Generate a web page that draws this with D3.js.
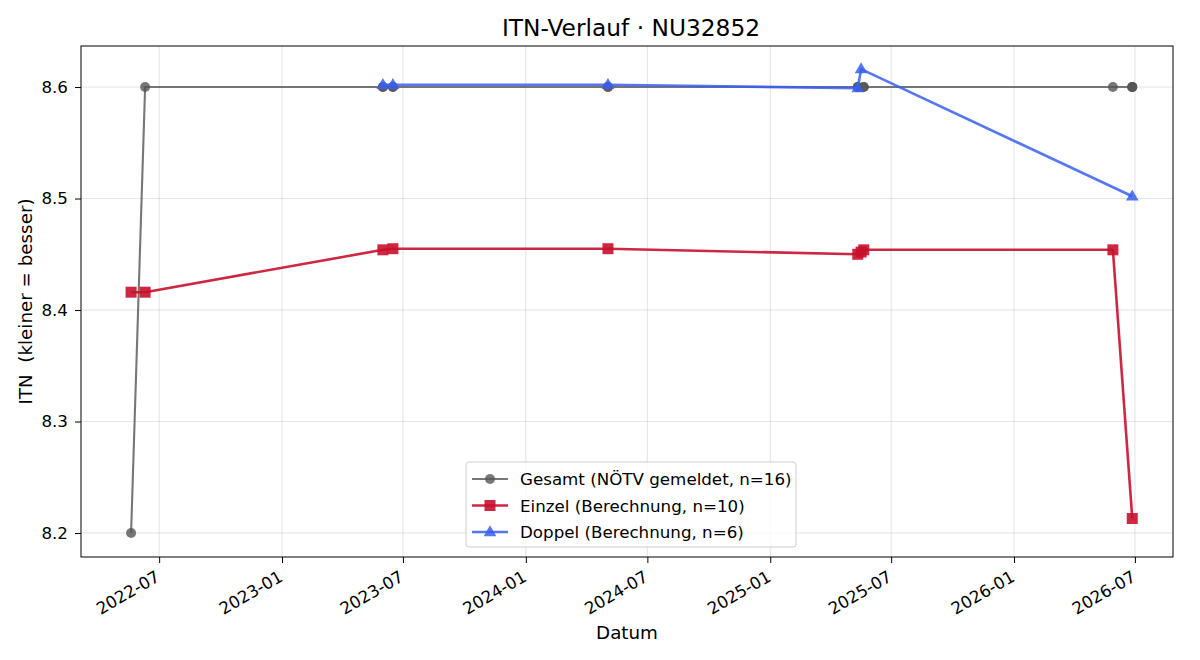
<!DOCTYPE html>
<html>
<head>
<meta charset="utf-8">
<script src="https://cdn.jsdelivr.net/npm/d3@7"></script>
<style>
  body { margin: 0; background: #fff; }
  svg { font-family: "DejaVu Sans", sans-serif; }
</style>
</head>
<body>
<div class="chart"></div>
<script>
// data
const gesamtDates = ["2022-05-20","2022-06-10","2023-06-01","2023-06-01","2023-06-16","2023-06-16",
    "2024-05-03","2024-05-03","2025-05-12","2025-05-12","2025-05-21","2025-05-21",
    "2026-05-29","2026-06-27","2026-06-27","2026-06-27"];
const gesamtValues = [8.2, 8.6, 8.6, 8.6, 8.6, 8.6, 8.6, 8.6, 8.6, 8.6, 8.6, 8.6, 8.6, 8.6, 8.6, 8.6];

const einzelDates = ["2022-05-20","2022-06-10","2023-06-01","2023-06-16","2024-05-03",
    "2025-05-12","2025-05-17","2025-05-21","2026-05-29","2026-06-27"];
const einzelValues = [8.416, 8.416, 8.454, 8.455, 8.455, 8.450, 8.452, 8.454, 8.454, 8.213];

const doppelDates = ["2023-06-01","2023-06-16","2024-05-03","2025-05-12","2025-05-17","2026-06-27"];
const doppelValues = [8.602, 8.602, 8.602, 8.599, 8.616, 8.502];

const yTicks = [8.2, 8.3, 8.4, 8.5, 8.6];
const xTicks = ["2022-07-01","2023-01-01","2023-07-01","2024-01-01","2024-07-01",
    "2025-01-01","2025-07-01","2026-01-01","2026-07-01"];

const seriesList = [
    { name: "Gesamt (NÖTV gemeldet, n=16)", dates: gesamtDates, values: gesamtValues,
      color: "#555555", opacity: 0.8, width: 2.1, marker: "circle" },
    { name: "Einzel (Berechnung, n=10)", dates: einzelDates, values: einzelValues,
      color: "#c8102e", opacity: 0.9, width: 2.6, marker: "square" },
    { name: "Doppel (Berechnung, n=6)", dates: doppelDates, values: doppelValues,
      color: "#3a5ff0", opacity: 0.85, width: 2.6, marker: "triangle" }
];

const width = 1200;
const height = 660;
const plotLeft = 81, plotRight = 1173, plotTop = 46, plotBottom = 557;
const parse = d3.timeParse("%Y-%m-%d");

const svg = d3.select('.chart')
    .append('svg')
    .attr('width', width)
    .attr('height', height);

const x = d3.scaleTime()
    .domain([parse("2022-03-06"), parse("2026-08-27")])
    .range([plotLeft, plotRight]);
const y = d3.scaleLinear()
    .domain([8.1785, 8.6368])
    .range([plotBottom, plotTop]);

// grid
svg.append("g").selectAll("line")
    .data(xTicks)
    .enter()
    .append("line")
    .attr("x1", d => x(parse(d))).attr("x2", d => x(parse(d)))
    .attr("y1", plotTop).attr("y2", plotBottom)
    .attr("stroke", "#b0b0b0").attr("stroke-opacity", 0.35).attr("stroke-width", 1);
svg.append("g").selectAll("line")
    .data(yTicks)
    .enter()
    .append("line")
    .attr("x1", plotLeft).attr("x2", plotRight)
    .attr("y1", d => y(d)).attr("y2", d => y(d))
    .attr("stroke", "#b0b0b0").attr("stroke-opacity", 0.35).attr("stroke-width", 1);

// axes
const xAxis = svg.append("g")
    .attr("transform", "translate(0," + plotBottom + ")")
    .call(d3.axisBottom(x).tickValues(xTicks.map(parse)).tickFormat(d3.timeFormat("%Y-%m")).tickSizeOuter(0).tickSize(6));
xAxis.select(".domain").remove();
xAxis.selectAll("text")
    .attr("font-size", 16.7)
    .attr("font-family", "DejaVu Sans")
    .attr("fill", "#000")
    .attr("text-anchor", "end")
    .attr("dy", null)
    .attr("y", 0)
    .attr("dominant-baseline", "hanging")
    .attr("transform", "translate(-5,12) rotate(-30)");

const yAxis = svg.append("g")
    .attr("transform", "translate(" + plotLeft + ",0)")
    .call(d3.axisLeft(y).tickValues(yTicks).tickFormat(d3.format(".1f")).tickSizeOuter(0).tickSize(6));
yAxis.select(".domain").remove();
yAxis.selectAll("text")
    .attr("font-size", 16.7)
    .attr("font-family", "DejaVu Sans")
    .attr("fill", "#000")
    .attr("x", -13);

// frame
svg.append("rect")
    .attr("x", plotLeft).attr("y", plotTop)
    .attr("width", plotRight - plotLeft).attr("height", plotBottom - plotTop)
    .attr("fill", "none").attr("stroke", "#000").attr("stroke-width", 1);

function drawMarker(g, kind, cx, cy, color) {
    if (kind === "circle") {
        g.append("circle").attr("cx", cx).attr("cy", cy).attr("r", 5).attr("fill", color);
    } else if (kind === "square") {
        g.append("rect").attr("x", cx - 5.5).attr("y", cy - 5.5).attr("width", 11).attr("height", 11).attr("fill", color);
    } else {
        g.append("path").attr("d", d3.symbol(d3.symbolTriangle, 70)()).attr("transform", "translate(" + cx + "," + (cy + 0.5) + ")").attr("fill", color);
    }
}

// series
seriesList.forEach(function(s) {
    const pts = s.dates.map((d, i) => [x(parse(d)), y(s.values[i])]);
    const g = svg.append("g");
    g.append("path")
        .attr("d", d3.line()(pts))
        .attr("fill", "none")
        .attr("stroke", s.color)
        .attr("stroke-opacity", s.opacity)
        .attr("stroke-width", s.width)
        .attr("stroke-linejoin", "round");
    pts.forEach(function(p) {
        const m = g.append("g").attr("opacity", s.opacity);
        drawMarker(m, s.marker, p[0], p[1], s.color);
    });
});

// title and labels
svg.append("text")
    .attr("x", 631).attr("y", 36)
    .attr("text-anchor", "middle")
    .attr("font-size", 23.3)
    .text("ITN-Verlauf · NU32852");
svg.append("text")
    .attr("x", (plotLeft + plotRight) / 2).attr("y", 639)
    .attr("text-anchor", "middle")
    .attr("font-size", 18.3)
    .text("Datum");
svg.append("text")
    .attr("transform", "translate(32," + ((plotTop + plotBottom) / 2) + ") rotate(-90)")
    .attr("text-anchor", "middle")
    .attr("font-size", 18.3)
    .style("white-space", "pre")
    .text("ITN  (kleiner = besser)");

// legend
const lg = svg.append("g").attr("transform", "translate(466,462)");
lg.append("rect")
    .attr("width", 330).attr("height", 85)
    .attr("rx", 3)
    .attr("fill", "#fff").attr("fill-opacity", 0.8)
    .attr("stroke", "#cccccc");
seriesList.forEach(function(s, i) {
    const ry = 17 + i * 26.5;
    lg.append("line")
        .attr("x1", 6).attr("x2", 42)
        .attr("y1", ry).attr("y2", ry)
        .attr("stroke", s.color).attr("stroke-opacity", s.opacity)
        .attr("stroke-width", s.width);
    const m = lg.append("g").attr("opacity", s.opacity);
    drawMarker(m, s.marker, 24, ry, s.color);
    lg.append("text")
        .attr("x", 54).attr("y", ry + 6)
        .attr("font-size", 16.7)
        .text(s.name);
});
</script>
</body>
</html>
